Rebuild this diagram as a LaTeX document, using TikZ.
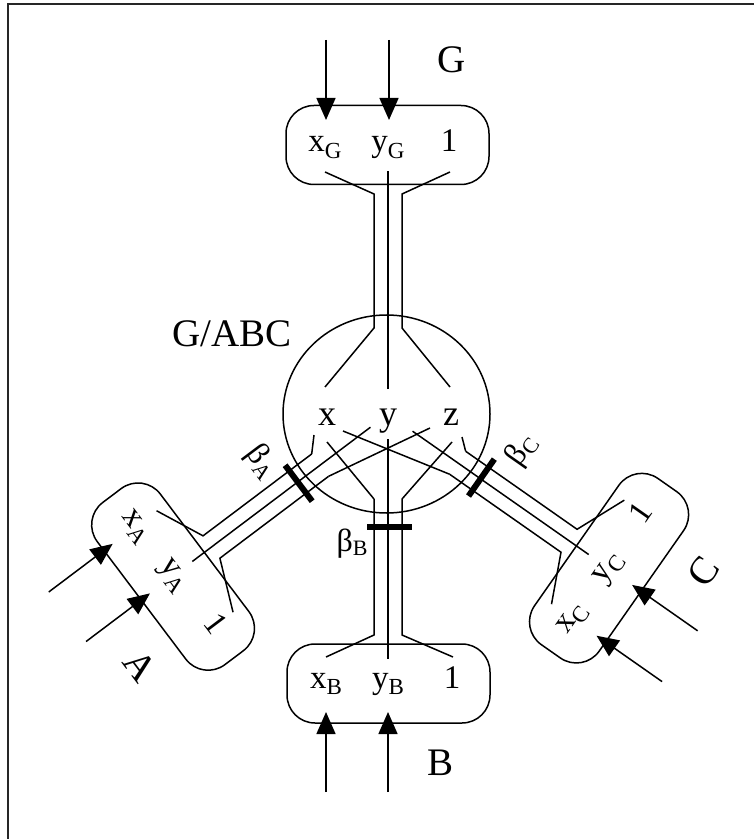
\documentclass[tikz,border=0pt]{standalone}
\usepackage{fontspec}
\setmainfont{Liberation Serif}
\usetikzlibrary{arrows.meta,shapes.geometric}
\newcommand{\sbs}[1]{\raisebox{-3.3pt}{\fontsize{11.5}{12}\selectfont #1}}
\newcommand{\sbsb}[1]{\raisebox{-2pt}{\fontsize{11}{12}\selectfont #1}}
\newcommand{\branch}[3]{%
  \coordinate (#1L) at (-14,-85);
  \coordinate (#1R) at (14,-85);
  \coordinate (#1Lb) at (-14,-221);
  \coordinate (#1Rb) at (14,-221);
  \coordinate (#1Lw) at (-62,-243);
  \coordinate (#1Rw) at (65,-243);
  \coordinate (#1M) at (0,#3);
  \coordinate (#1Mw) at (0,-245);
  \node[boxsh, transform shape] (#1box) at (0.5,-269.5) {};
  \draw[wire] (#1L) -- (#1Lb) -- (#1Lw);
  \draw[wire] (#1R) -- (#1Rb) -- (#1Rw);
  \draw[wire] (#1M) -- (#1Mw);
  \coordinate (#1b1) at (-21,-113);
  \coordinate (#1b2) at (24,-113);
  \draw[barln] (#1b1) -- (#1b2);
  \node[btxt, transform shape] (#1x) at (-62,-274) {x\sbs{#2}};
  \node[btxt, transform shape] (#1y) at (0,-274) {y\sbs{#2}};
  \node[btxt, transform shape] (#1one) at (64,-274) {1};
  \coordinate (#1s1) at (-62,-378);
  \coordinate (#1t1) at (-62,-298);
  \coordinate (#1s2) at (0,-378);
  \coordinate (#1t2) at (0,-298);
  \draw[arr] (#1s1) -- (#1t1);
  \draw[arr] (#1s2) -- (#1t2);
  \node[lbl, transform shape] (#1lab) at (52,-349) {#2};
}
\begin{document}
\begin{tikzpicture}[x=0.5pt,y=0.5pt,
  wire/.style={line width=0.75pt},
  arr/.style={line width=0.75pt,-{Triangle[length=11pt,width=9.5pt]}},
  barln/.style={line width=3pt},
  boxsh/.style={draw,line width=0.75pt,rounded corners=14pt,minimum width=101.5pt,minimum height=39.5pt,inner sep=0pt},
  btxt/.style={font=\fontsize{16.5}{18}\selectfont,inner sep=0pt,anchor=base},
  ctxt/.style={font=\fontsize{18}{20}\selectfont,inner sep=0pt,anchor=base},
  lbl/.style={font=\fontsize{19.5}{22}\selectfont,inner sep=0pt},
  btl/.style={font=\fontsize{16}{18}\selectfont,inner sep=0pt}]
\useasboundingbox (0,0) rectangle (754,-839);
\fill[white] (0,0) rectangle (754,-839);
% frame
\coordinate (fr1) at (8,-839);
\coordinate (fr2) at (8,-4);
\coordinate (fr3) at (754,-4);
\draw[line width=0.8pt,black!85] (fr1) -- (fr2) -- (fr3);
% central circle
\node[draw,ellipse,line width=0.75pt,minimum width=103.5pt,minimum height=99pt,inner sep=0pt] (core) at (386.5,-414) {};
\node[ctxt] (cx) at (327,-425) {x};
\node[ctxt] (cy) at (388,-425) {y};
\node[ctxt] (cz) at (451,-425) {z};
\node[lbl,anchor=base east] (gabc) at (292,-346) {G/ABC};
% G branch
\begin{scope}[shift={(388,-414)}]
  \coordinate (GL) at (-14,86);
  \coordinate (GR) at (14,86);
  \coordinate (GLb) at (-14,220);
  \coordinate (GRb) at (14,220);
  \coordinate (GLw) at (-63,242);
  \coordinate (GRw) at (62,242);
  \coordinate (GM) at (0,25);
  \coordinate (GMw) at (0,243);
  \coordinate (GLi) at (-63,27);
  \coordinate (GRi) at (62,27);
  \node[boxsh] (Gbox) at (-0.5,269) {};
  \draw[wire] (GLi) -- (GL) -- (GLb) -- (GLw);
  \draw[wire] (GRi) -- (GR) -- (GRb) -- (GRw);
  \draw[wire] (GM) -- (GMw);
  \node[btxt] (Gx) at (-63,262) {x\sbs{G}};
  \node[btxt] (Gy) at (0,262) {y\sbs{G}};
  \node[btxt] (Gone) at (61,262) {1};
  \coordinate (Gs1) at (-62,374);
  \coordinate (Gt1) at (-62,294);
  \coordinate (Gs2) at (1,374);
  \coordinate (Gt2) at (1,294);
  \draw[arr] (Gs1) -- (Gt1);
  \draw[arr] (Gs2) -- (Gt2);
  \node[lbl] (Glab) at (64,354) {G};
\end{scope}
% B branch
\begin{scope}[shift={(388,-414)}]
  \branch{B}{B}{-25}
  \coordinate (BLi) at (-61,-28);
  \coordinate (BRi) at (64,-28);
  \draw[wire] (BL) -- (BLi);
  \draw[wire] (BR) -- (BRi);
  \node[btl] (betaB) at (-36,-130) {β\sbsb{B}};
\end{scope}
% A branch
\begin{scope}[shift={(388,-414)},rotate=-53]
  \branch{A}{A}{-22}
  \node[btl,transform shape] (betaA) at (-38,-130) {β\sbsb{A}};
\end{scope}
% C branch
\begin{scope}[shift={(388,-414)},rotate=55]
  \branch{C}{C}{-30}
  \node[btl,transform shape] (betaC) at (47,-131) {β\sbsb{C}};
\end{scope}
% interior wires of A and C
\coordinate (ALi) at (314,-435);
\coordinate (ARi) at (430,-428);
\coordinate (CRi) at (462,-437);
\coordinate (CLi) at (343,-431);
\draw[wire] (AL) -- (ALi);
\draw[wire] (AR) -- (ARi);
\draw[wire] (CR) -- (CRi);
\draw[wire] (CL) -- (CLi);
\end{tikzpicture}
\end{document}
